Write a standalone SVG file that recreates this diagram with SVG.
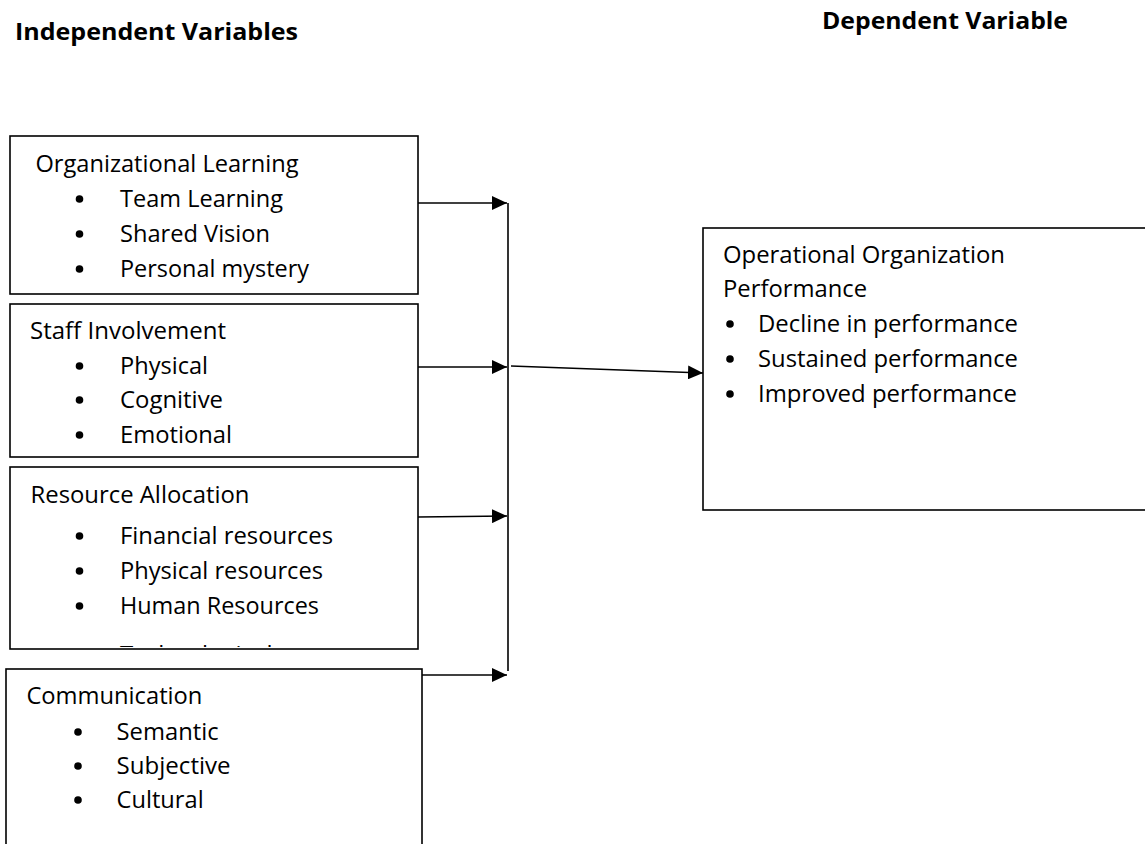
<svg xmlns="http://www.w3.org/2000/svg" width="1145" height="844" viewBox="0 0 1145 844">
  <style>
    .box { fill: #ffffff; stroke: #000000; stroke-width: 1.6; }
    .t { font-family: "Open Sans", "Liberation Sans", sans-serif; font-size: 24px; fill: #000000; }
    .hd { font-family: "Open Sans", "Liberation Sans", sans-serif; font-size: 24px; font-weight: bold; fill: #000000; }
    .dot { fill: #000000; }
    .link { fill: none; stroke: #000000; stroke-width: 1.6; }
  </style>
  <defs>
    <marker id="arrow" markerUnits="userSpaceOnUse" markerWidth="16" markerHeight="14" refX="15" refY="7" orient="auto">
      <path d="M0,0 L15,7 L0,14 Z" fill="#000000"/>
    </marker>
    <clipPath id="clip-resources">
      <rect x="10" y="467" width="408" height="180"/>
    </clipPath>
  </defs>

  <rect width="1145" height="844" fill="#ffffff"/>

  <!-- column headings -->
  <g id="headings">
    <text class="hd" x="15" y="40" textLength="283" lengthAdjust="spacingAndGlyphs">Independent Variables</text>
    <text class="hd" x="822" y="29" textLength="246" lengthAdjust="spacingAndGlyphs">Dependent Variable</text>
  </g>

  <!-- independent variables -->
  <g id="organizational-learning">
    <rect class="box" x="10" y="136" width="408" height="158"/>
    <text class="t" x="35.5" y="172" textLength="263" lengthAdjust="spacingAndGlyphs">Organizational Learning</text>
    <circle class="dot" cx="79.5" cy="199" r="3.8"/>
    <text class="t" x="120" y="207" textLength="163" lengthAdjust="spacingAndGlyphs">Team Learning</text>
    <circle class="dot" cx="79.5" cy="234" r="3.8"/>
    <text class="t" x="120" y="242" textLength="150" lengthAdjust="spacingAndGlyphs">Shared Vision</text>
    <circle class="dot" cx="79.5" cy="269" r="3.8"/>
    <text class="t" x="120" y="277" textLength="189" lengthAdjust="spacingAndGlyphs">Personal mystery</text>
  </g>

  <g id="staff-involvement">
    <rect class="box" x="10" y="304" width="408" height="153"/>
    <text class="t" x="30" y="339" textLength="196" lengthAdjust="spacingAndGlyphs">Staff Involvement</text>
    <circle class="dot" cx="79.5" cy="366" r="3.8"/>
    <text class="t" x="120" y="374" textLength="88" lengthAdjust="spacingAndGlyphs">Physical</text>
    <circle class="dot" cx="79.5" cy="400" r="3.8"/>
    <text class="t" x="120" y="408" textLength="103" lengthAdjust="spacingAndGlyphs">Cognitive</text>
    <circle class="dot" cx="79.5" cy="435" r="3.8"/>
    <text class="t" x="120" y="443" textLength="112" lengthAdjust="spacingAndGlyphs">Emotional</text>
  </g>

  <g id="resource-allocation">
    <rect class="box" x="10" y="467" width="408" height="182"/>
    <g clip-path="url(#clip-resources)">
      <text class="t" x="30.5" y="503" textLength="219" lengthAdjust="spacingAndGlyphs">Resource Allocation</text>
      <circle class="dot" cx="79.5" cy="536" r="3.8"/>
      <text class="t" x="120" y="544" textLength="213" lengthAdjust="spacingAndGlyphs">Financial resources</text>
      <circle class="dot" cx="79.5" cy="571" r="3.8"/>
      <text class="t" x="120" y="579" textLength="203" lengthAdjust="spacingAndGlyphs">Physical resources</text>
      <circle class="dot" cx="79.5" cy="606" r="3.8"/>
      <text class="t" x="120" y="614" textLength="199" lengthAdjust="spacingAndGlyphs">Human Resources</text>
      <circle class="dot" cx="79.5" cy="655" r="3.8"/>
      <text class="t" x="120" y="663">Technological resources</text>
    </g>
  </g>

  <g id="communication">
    <rect class="box" x="6" y="669" width="416" height="190"/>
    <text class="t" x="26.4" y="704" textLength="176" lengthAdjust="spacingAndGlyphs">Communication</text>
    <circle class="dot" cx="78" cy="732" r="3.8"/>
    <text class="t" x="116.6" y="740" textLength="102" lengthAdjust="spacingAndGlyphs">Semantic</text>
    <circle class="dot" cx="78" cy="766" r="3.8"/>
    <text class="t" x="116.6" y="774" textLength="114" lengthAdjust="spacingAndGlyphs">Subjective</text>
    <circle class="dot" cx="78" cy="800" r="3.8"/>
    <text class="t" x="116.6" y="808" textLength="87" lengthAdjust="spacingAndGlyphs">Cultural</text>
  </g>

  <!-- dependent variable -->
  <g id="operational-performance">
    <rect class="box" x="703" y="228" width="460" height="282"/>
    <text class="t" x="723" y="263" textLength="282" lengthAdjust="spacingAndGlyphs">Operational Organization</text>
    <text class="t" x="723" y="297" textLength="144" lengthAdjust="spacingAndGlyphs">Performance</text>
    <circle class="dot" cx="730" cy="324" r="3.8"/>
    <text class="t" x="758" y="332" textLength="260" lengthAdjust="spacingAndGlyphs">Decline in performance</text>
    <circle class="dot" cx="730" cy="359" r="3.8"/>
    <text class="t" x="758" y="367" textLength="260" lengthAdjust="spacingAndGlyphs">Sustained performance</text>
    <circle class="dot" cx="730" cy="394" r="3.8"/>
    <text class="t" x="758" y="402" textLength="259" lengthAdjust="spacingAndGlyphs">Improved performance</text>
  </g>

  <!-- connectors -->
  <g id="connectors">
    <line class="link" x1="508" y1="203" x2="508" y2="671"/>
    <line class="link" x1="418" y1="203" x2="507" y2="203" marker-end="url(#arrow)"/>
    <line class="link" x1="418" y1="367" x2="507" y2="367" marker-end="url(#arrow)"/>
    <line class="link" x1="418" y1="517" x2="507" y2="516" marker-end="url(#arrow)"/>
    <line class="link" x1="422" y1="675" x2="507" y2="675" marker-end="url(#arrow)"/>
    <line class="link" x1="511" y1="366" x2="703" y2="373" marker-end="url(#arrow)"/>
  </g>
</svg>
